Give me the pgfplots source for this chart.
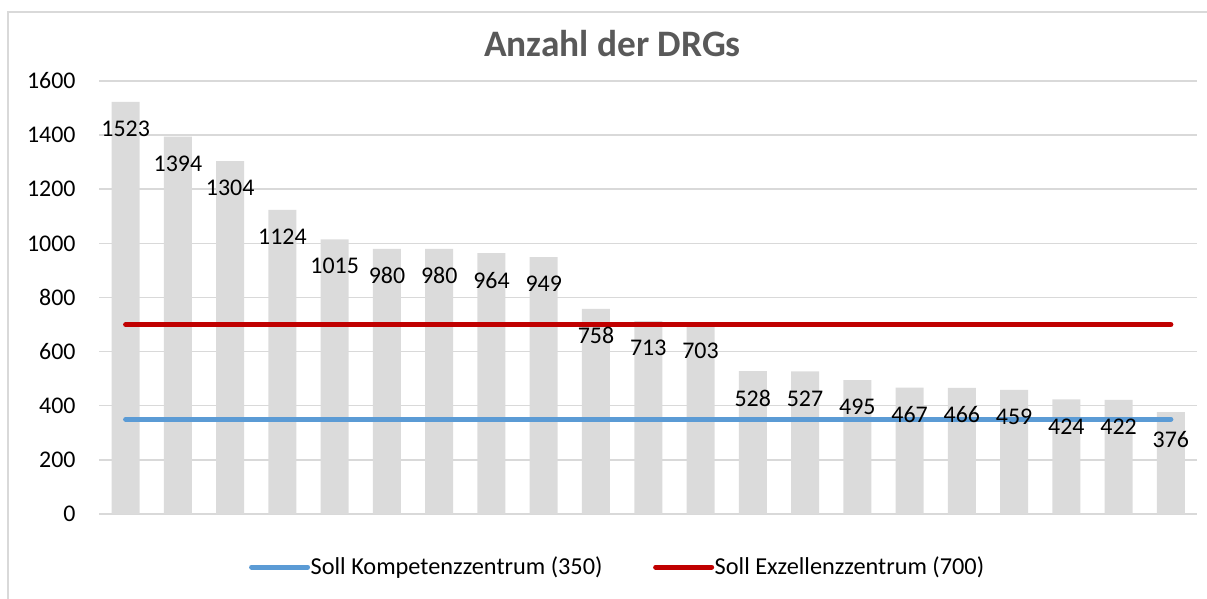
\documentclass[border=0pt]{standalone}
\usepackage{fontspec}
\setmainfont{Carlito}
\usepackage{pgfplots}
\usepackage{pgfplotstable}
\pgfplotsset{compat=1.18}
\pgfkeys{/pgf/number format/1000 sep={}}
\definecolor{barc}{HTML}{DBDBDB}
\definecolor{gridc}{HTML}{D9D9D9}
\definecolor{blu}{HTML}{5B9BD5}
\definecolor{rd}{HTML}{C00000}
\definecolor{titc}{HTML}{595959}
\pgfplotstableread{
x y
1 1523
2 1394
3 1304
4 1124
5 1015
6 980
7 980
8 964
9 949
10 758
11 713
12 703
13 528
14 527
15 495
16 467
17 466
18 459
19 424
20 422
21 376
}\datatable
\begin{document}
\begin{tikzpicture}
\useasboundingbox (-49.75bp,-42.5bp) rectangle (553.75bp,257bp);
\draw[gridc, line width=0.75bp] (-45.75bp,-50bp) -- (-45.75bp,251bp) -- (600bp,251bp);
\begin{axis}[
 at={(0,0)}, anchor=south west, scale only axis,
 width=548.75bp, height=216.5bp,
 xmin=0.5, xmax=21.5, ymin=0, ymax=1600,
 ytick={0,200,...,1600}, xtick=\empty,
 ymajorgrids, grid style={gridc, line width=0.75bp},
 axis line style={draw=none}, major tick length=0pt,
 tick label style={font=\fontsize{12}{14}\selectfont},
 yticklabel style={anchor=east, inner sep=0pt, xshift=-11.75bp},
 /pgf/number format/assume math mode=true,
 /pgf/number format/1000 sep={},
 title={Anzahl der DRGs},
 title style={at={(0.4674,1.030)}, anchor=base, font=\fontsize{18.75}{22}\selectfont\bfseries, text=titc, inner sep=0pt},
 legend style={draw=none, fill=none, at={(0.4715,-0.1224)}, anchor=center,
   legend columns=2, font=\fontsize{12.2}{14}\selectfont,
   /tikz/every even column/.append style={column sep=25bp},
   inner sep=0pt, nodes={inner sep=0.3bp}},
 legend image code/.code={\draw[#1, line cap=round] (0bp,0bp) -- (28bp,0bp);},
]
\addplot[ybar, bar width=14bp, fill=barc, draw=none, forget plot] table {\datatable};
\addplot[blu, line width=2.5bp, line cap=round, line join=round] coordinates {
(1,350) (2,350) (3,350) (4,350) (5,350) (6,350) (7,350) (8,350) (9,350) (10,350) (11,350)
(12,350) (13,350) (14,350) (15,350) (16,350) (17,350) (18,350) (19,350) (20,350) (21,350)};
\addlegendentry{Soll Kompetenzzentrum (350)}
\addplot[rd, line width=2.5bp, line cap=round, line join=round] coordinates {
(1,700) (2,700) (3,700) (4,700) (5,700) (6,700) (7,700) (8,700) (9,700) (10,700) (11,700)
(12,700) (13,700) (14,700) (15,700) (16,700) (17,700) (18,700) (19,700) (20,700) (21,700)};
\addlegendentry{Soll Exzellenzzentrum (700)}
\addplot[ybar, bar width=14bp, draw=none, fill=none, forget plot,
  nodes near coords, nodes near coords style={anchor=center, yshift=-13.5bp,
  font=\fontsize{12}{14}\selectfont, text=black}] table {\datatable};
\end{axis}
\end{tikzpicture}
\end{document}
